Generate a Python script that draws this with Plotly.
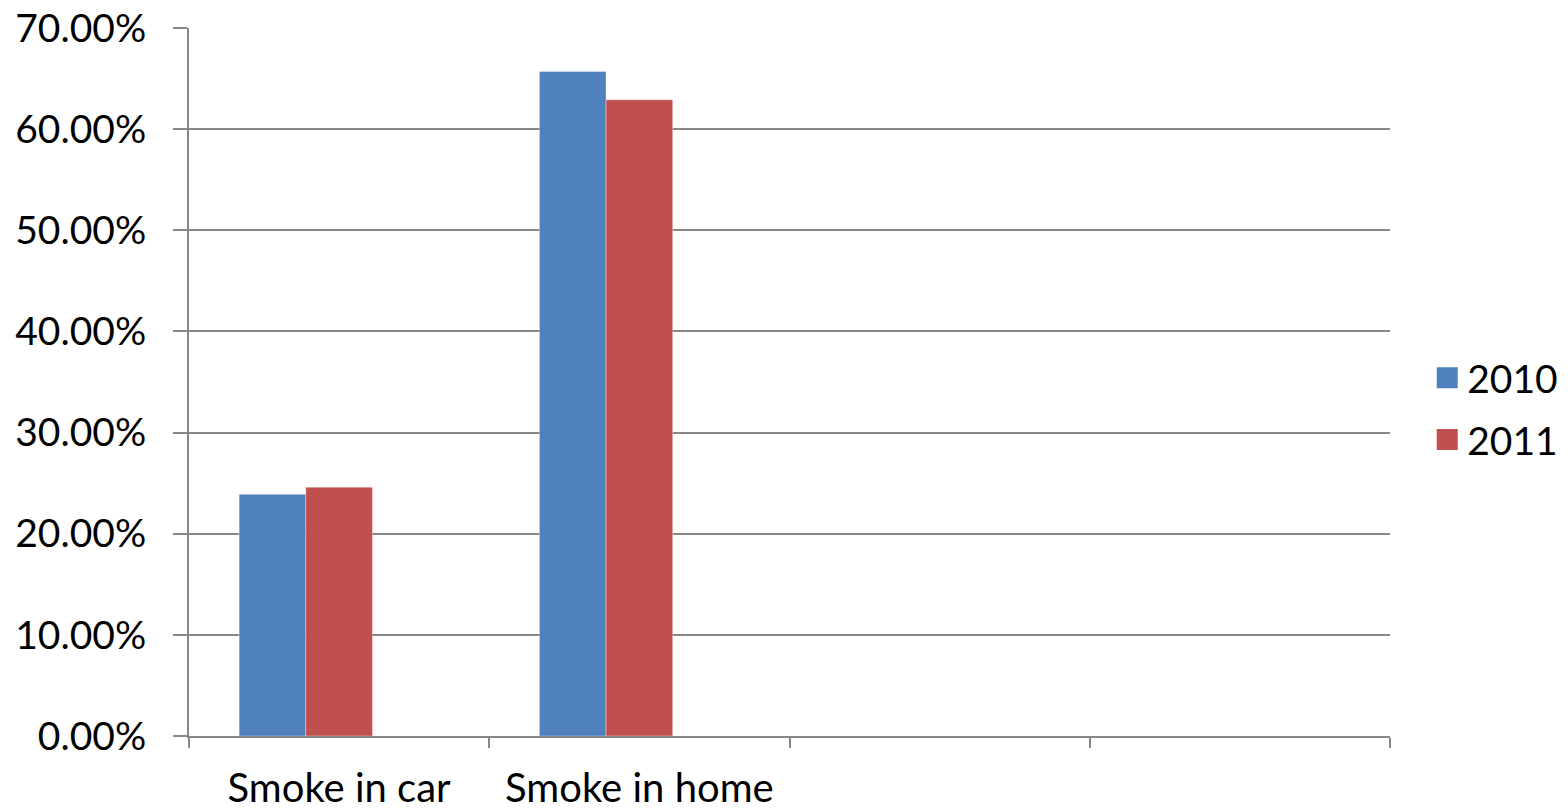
import plotly.graph_objects as go

categories = ["Smoke in car", "Smoke in home"]
slots = ["Smoke in car", "Smoke in home", " ", "  "]
series_names = ["2010", "2011"]
values_2010 = [0.239, 0.657]
values_2011 = [0.246, 0.629]
colors = ["#4F81BD", "#C0504D"]

FONT = "Lato"
BAR_W = 0.222
offsets = [-0.333, -0.111]

fig = go.Figure()
for name, vals, col, off in zip(series_names, [values_2010, values_2011], colors, offsets):
    fig.add_trace(go.Bar(
        x=categories, y=vals, name=name, width=BAR_W, offset=off,
        marker=dict(color=col, line=dict(color="rgba(255,255,255,0.35)", width=1)),
        showlegend=False,
    ))
# legend entries (square swatches)
for name, col in zip(series_names, colors):
    fig.add_trace(go.Scatter(
        x=[None], y=[None], mode="markers", name=name, legendgroup=name,
        marker=dict(symbol="square", size=16, color=col, line=dict(color=col, width=5)),
        showlegend=True,
    ))

fig.update_layout(
    width=1568, height=811,
    margin=dict(l=189, r=178, t=28, b=75, autoexpand=False),
    paper_bgcolor="white", plot_bgcolor="white",
    barmode="overlay",
    font=dict(family=FONT, size=38, color="black"),
    showlegend=True,
    legend=dict(x=1.031, xanchor="left", xref="paper", y=0.462, yanchor="middle",
                font=dict(family=FONT, size=39, color="black"),
                itemsizing="trace", tracegroupgap=8, itemwidth=30,
                bgcolor="rgba(0,0,0,0)"),
)
fig.update_xaxes(
    type="category", categoryorder="array", categoryarray=slots,
    range=[-0.5, 3.5], tickson="boundaries", ticks="outside", ticklen=10,
    tickcolor="#878787", tickwidth=2, showline=True, linecolor="#878787", linewidth=2,
    showgrid=False, tickfont=dict(family=FONT, size=40, color="black"),
    ticklabelstandoff=16,
)
fig.update_yaxes(
    range=[0, 0.70], dtick=0.10, tickformat=".2%",
    showgrid=True, gridcolor="#878787", gridwidth=1.5,
    ticks="outside", ticklen=14, tickcolor="#878787", tickwidth=2,
    showline=True, linecolor="#878787", linewidth=2, zeroline=False,
    tickfont=dict(family=FONT, size=39, color="black"),
    ticklabelstandoff=19,
)

fig.write_html("out.html")
